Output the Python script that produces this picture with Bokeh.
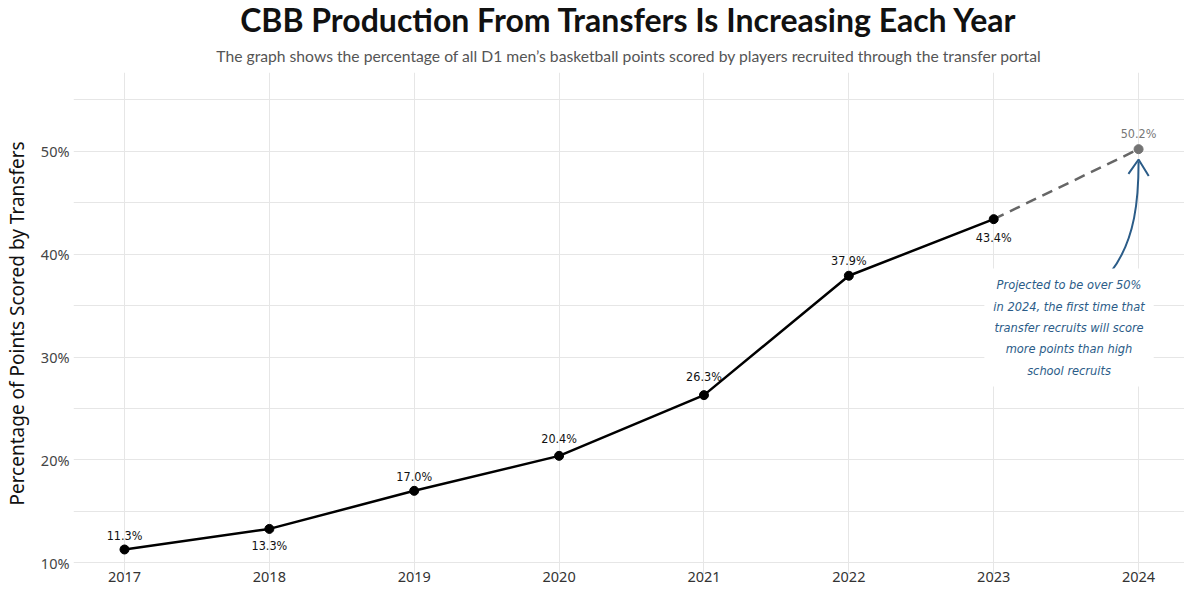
from bokeh.plotting import figure
from bokeh.models import (Range1d, FixedTicker, PrintfTickFormatter, Title, Label)
from bokeh.core.properties import value
from bokeh.embed import file_html
from bokeh.resources import INLINE

# ---- data ----
years = [2017, 2018, 2019, 2020, 2021, 2022, 2023]
pct = [11.3, 13.3, 17.0, 20.4, 26.3, 37.9, 43.4]
proj_year = [2023, 2024]
proj_pct = [43.4, 50.2]
pct_labels = ["11.3%", "13.3%", "17.0%", "20.4%", "26.3%", "37.9%", "43.4%"]
proj_label = "50.2%"
y_ticks = [10, 20, 30, 40, 50]
y_minor = [15, 25, 35, 45, 55]

title_text = "CBB Production From Transfers Is Increasing Each Year"
subtitle_text = ("The graph shows the percentage of all D1 men\u2019s basketball points "
                 "scored by players recruited through the transfer portal")
ylabel_text = "Percentage of Points Scored by Transfers"
note_text = ("Projected to be over 50%\nin 2024, the first time that\n"
             "transfer recruits will score\nmore points than high\nschool recruits")

# ---- styles ----
label_dy = [-14, 17, -14, -17, -19, -15, 18]
BLUE = "#2b5c88"
GRID = "#e6e6e6"
NARROW = "DejaVu Sans Condensed, Roboto"

p = figure(width=1184, height=584, output_backend="svg", toolbar_location=None,
           x_range=Range1d(2016.648, 2024.317), y_range=Range1d(8.87, 57.65),
           min_border_left=0, min_border_right=0, min_border_top=0,
           min_border_bottom=0, title=None)
p.outline_line_color = None
p.background_fill_color = "white"
p.border_fill_color = "white"

# titles
sub = Title(text=subtitle_text, align="center", text_font="Lato",
            text_font_size="15.7px", text_font_style="normal",
            text_color="#555555", standoff=16)
p.add_layout(sub, "above")
ttl = Title(text=title_text, align="center", text_font="Lato",
            text_font_size="32px", text_font_style="bold",
            text_color="#111111", standoff=-5)
p.add_layout(ttl, "above")

# axes
p.xaxis.ticker = FixedTicker(ticks=years + [2024])
p.yaxis.ticker = FixedTicker(ticks=y_ticks, minor_ticks=y_minor)
p.yaxis.formatter = PrintfTickFormatter(format="%d%%")
for ax in (p.xaxis, p.yaxis):
    ax.axis_line_color = None
    ax.major_tick_line_color = None
    ax.minor_tick_line_color = None
    ax.major_tick_out = 0
    ax.minor_tick_out = 0
    ax.major_label_text_font = "Noto Sans"
    ax.major_label_text_font_size = "14.5px"
    ax.major_label_text_color = "#444444"
p.xaxis.major_label_text_color = "#333333"
p.xaxis.major_label_standoff = -3
p.yaxis.major_label_standoff = 4
p.yaxis.axis_label = ylabel_text
p.yaxis.axis_label_text_font = "Noto Sans"
p.yaxis.axis_label_text_font_style = "normal"
p.yaxis.axis_label_text_font_size = "19px"
p.yaxis.axis_label_text_color = "#111111"
p.yaxis.axis_label_standoff = 8

p.xgrid.grid_line_color = GRID
p.ygrid.grid_line_color = GRID
p.ygrid.minor_grid_line_color = GRID

# projection
p.line(proj_year, proj_pct, line_color="#666666", line_width=2.5, line_dash="11 7")
p.scatter([proj_year[1]], [proj_pct[1]], size=9, color="#737373")
p.text([proj_year[1]], [proj_pct[1]], text=[proj_label], text_align="center",
       text_baseline="middle", y_offset=-16, text_font=value(NARROW),
       text_font_size="12.5px", text_color="#777777")

# main series
p.line(years, pct, line_color="black", line_width=2.5)
p.scatter(years, pct, size=9, color="black")
p.text(years, pct, text=pct_labels, text_align="center", text_baseline="middle",
       y_offset=label_dy, text_font=value(NARROW), text_font_size="12.5px",
       text_color="#111111")

# annotation box
note = Label(x=2023.52, y=32.87, text=note_text, text_align="center",
             text_baseline="middle", text_font=NARROW, text_font_size="12.7px",
             text_font_style="italic", text_color=BLUE, text_line_height=1.42,
             background_fill_color="white", padding=9)
p.add_layout(note)

# curved arrow
p.bezier(x0=[2023.81], y0=[38.3], x1=[2024.0], y1=[49.0],
         cx0=[2023.98], cy0=[41.4], cx1=[2024.0], cy1=[45.5],
         line_color=BLUE, line_width=2)
p.multi_line(xs=[[2023.93, 2024.0, 2024.07]], ys=[[47.8, 49.2, 47.6]],
             line_color=BLUE, line_width=2)

open("out.html", "w").write(file_html(p, INLINE))
